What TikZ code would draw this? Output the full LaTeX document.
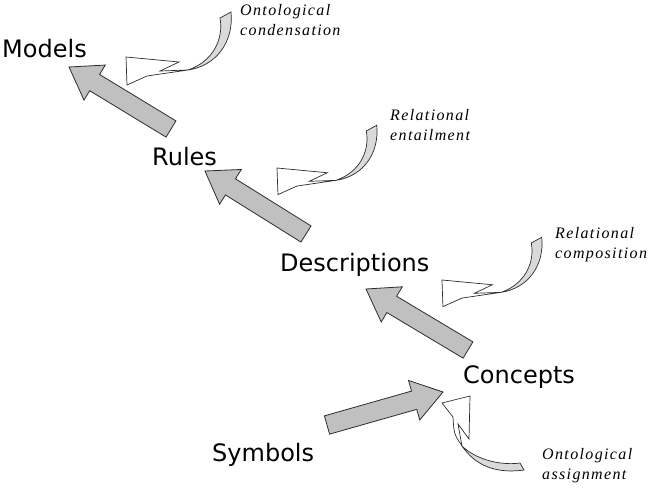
\documentclass[tikz,border=0pt]{standalone}
\usepackage{fontspec}
\setmainfont{Liberation Serif}
\newfontfamily\labelfont{DejaVu Sans}
\newfontfamily\notefont[LetterSpace=8.5]{Liberation Serif Italic}
\usetikzlibrary{calc}
\definecolor{arrowgray}{RGB}{192,192,192}
\definecolor{tailgray}{RGB}{218,218,218}
\definecolor{edgegray}{RGB}{45,45,45}
\tikzset{
  bigarrow/.style={fill=arrowgray, draw=edgegray, line width=0.8pt, line join=miter},
  termlabel/.style={font=\labelfont\fontsize{24}{28}\selectfont, inner sep=0pt, anchor=base west},
  notelabel/.style={font=\notefont\fontsize{16}{20}\selectfont, inner sep=0pt, anchor=base west, align=left},
  curvtail/.style={fill=tailgray, draw=edgegray, line width=0.7pt},
  curvhead/.style={fill=white, draw=edgegray, line width=0.7pt, line join=miter},
  curvarrow/.pic={
    \draw[curvtail] (94,-39) -- (105,-45) .. controls (108,-15) and (90,9) .. (62,13)
       .. controls (86,5) and (98,-17) .. cycle;
    \draw[curvhead] (0,0) -- (53,5) -- (34,14) -- (62,13) -- (21,19) -- (1,28) -- cycle;
  }
}
\newcommand\blockarrow[2]{%
  \coordinate (ba-h) at ($(#2)!30pt!(#1)$);
  \draw[bigarrow] ($(#1)!9.5pt!90:(#2)$) -- ($(ba-h)!9.5pt!90:(#2)$) -- ($(ba-h)!20.5pt!90:(#2)$)
    -- (#2) -- ($(ba-h)!20.5pt!-90:(#2)$) -- ($(ba-h)!9.5pt!-90:(#2)$) -- ($(#1)!9.5pt!-90:(#2)$) -- cycle;}
\begin{document}
\begin{tikzpicture}[x=1pt,y=-1pt]
\useasboundingbox[fill=white] (0,0) rectangle (650,490);
% terms
\node[termlabel] (Models) at (2,57) {Models};
\node[termlabel] (Rules) at (152,165) {Rules};
\node[termlabel] (Descriptions) at (280,271) {Descriptions};
\node[termlabel] (Concepts) at (463,383) {Concepts};
\node[termlabel] (Symbols) at (212,461) {Symbols};
% big arrows
\coordinate (mtail) at (171,129); \coordinate (mtip) at (69,67);
\coordinate (rtail) at (306,234); \coordinate (rtip) at (205,171);
\coordinate (dtail) at (468,350); \coordinate (dtip) at (366,289);
\coordinate (stail) at (327,425); \coordinate (stip) at (443,392);
\blockarrow{mtail}{mtip}
\blockarrow{rtail}{rtip}
\blockarrow{dtail}{dtip}
\blockarrow{stail}{stip}
% curved arrows
\pic at (126,57) {curvarrow};
\pic[scale=0.95] at (277,168) {curvarrow};
\pic[scale=0.95] at (442,280) {curvarrow};
\draw[curvtail] (520,463) -- (524,470) .. controls (495,474) and (475,465) .. (462,446)
   .. controls (474,458) and (498,466) .. cycle;
\draw[curvhead] (442,403) -- (470,396) -- (469,439) -- (458,424) -- (462,446)
   .. controls (454,434) .. (453,417) -- cycle;
% notes
\node[notelabel] (n1) at (240,35) {Ontological\\condensation};
\node[notelabel] (n2) at (390,140) {Relational\\entailment};
\node[notelabel] (n3) at (555,258) {Relational\\composition};
\node[notelabel] (n4) at (542,479) {Ontological\\assignment};
\end{tikzpicture}
\end{document}
